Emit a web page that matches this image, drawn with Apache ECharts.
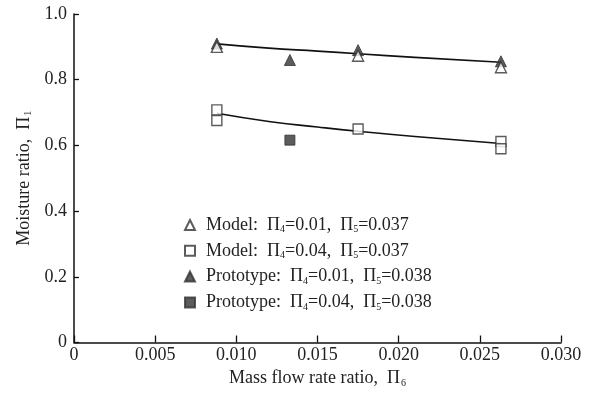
<!DOCTYPE html>
<html><head><meta charset="utf-8">
<script src="https://cdn.jsdelivr.net/npm/echarts@6/dist/echarts.min.js"></script>
<style>html,body{margin:0;padding:0;background:#fff}#c{width:595px;height:396px}</style>
</head><body><div id="c"></div>
<script>
const xTicks = [0, 0.005, 0.010, 0.015, 0.020, 0.025, 0.030];
const yTicks = [0, 0.2, 0.4, 0.6, 0.8, 1.0];

const modelTriX = [0.0088, 0.0175, 0.0263];
const modelTriY = [0.900, 0.873, 0.838];
const modelSqX  = [0.0088, 0.0088, 0.0175, 0.0263, 0.0263];
const modelSqY  = [0.708, 0.676, 0.650, 0.612, 0.590];
const protoTriX = [0.0088, 0.0133, 0.0175, 0.0263];
const protoTriY = [0.910, 0.860, 0.890, 0.856];
const protoSqX  = [0.0133];
const protoSqY  = [0.616];

const fitTriX = [0.0088, 0.012, 0.015, 0.0175, 0.021, 0.0263];
const fitTriY = [0.909, 0.896, 0.887, 0.879, 0.868, 0.853];
const fitSqX  = [0.0088, 0.012, 0.015, 0.0175, 0.021, 0.0263];
const fitSqY  = [0.698, 0.673, 0.656, 0.643, 0.627, 0.606];

const names = ['Model: Π4=0.01, Π5=0.037', 'Model: Π4=0.04, Π5=0.037',
               'Prototype: Π4=0.01, Π5=0.038', 'Prototype: Π4=0.04, Π5=0.038'];
const legendRich = [
  ['Model', '0.01', '0.037'], ['Model', '0.04', '0.037'],
  ['Prototype', '0.01', '0.038'], ['Prototype', '0.04', '0.038']
];

const zip = (a, b) => a.map((v, i) => [v, b[i]]);
const FONT = '"Liberation Serif", "DejaVu Serif", serif';
const INK = '#222';
const FS = 18;

const chart = echarts.init(document.getElementById('c'));
const openStyle = {color: '#fff', borderColor: '#333', borderWidth: 1.4};
const fillStyle = {color: '#333', borderColor: '#333', borderWidth: 1};
const subRich = {p: {fontFamily: FONT, fontSize: FS, color: INK},
                 s: {fontFamily: FONT, fontSize: 10, color: INK, padding: [9, 0, 0, 1]}};

chart.setOption({
  animation: false,
  backgroundColor: '#fff',
  grid: {left: 74, right: 34, top: 14, bottom: 53.5},
  xAxis: {
    type: 'value', min: 0, max: 0.03, interval: 0.005,
    name: '{p|Mass flow rate ratio,  Π}{s|6}', nameLocation: 'middle', nameGap: 25,
    nameTextStyle: {fontFamily: FONT, fontSize: FS, color: INK, rich: subRich},
    axisLine: {lineStyle: {color: '#111', width: 1.5}},
    axisTick: {inside: true, length: 7, lineStyle: {color: '#111', width: 1.3}},
    splitLine: {show: false},
    axisLabel: {fontFamily: FONT, fontSize: FS, color: INK, margin: 4,
      formatter: v => v === 0 ? '0' : v.toFixed(3)}
  },
  yAxis: {
    type: 'value', min: 0, max: 1.0, interval: 0.2,
    name: '{p|Moisture ratio,  Π}{s|1}', nameLocation: 'middle', nameGap: 39,
    nameTextStyle: {fontFamily: FONT, fontSize: FS, color: INK, rich: subRich},
    axisLine: {show: true, lineStyle: {color: '#111', width: 1.5}},
    axisTick: {show: true, inside: true, length: 5, lineStyle: {color: '#111', width: 1.3}},
    splitLine: {show: false},
    axisLabel: {fontFamily: FONT, fontSize: FS, color: INK, margin: 7,
      formatter: v => v === 0 ? '0' : v.toFixed(1)}
  },
  legend: {
    orient: 'vertical', left: 179, top: 211, itemGap: 7.3, itemWidth: 10, itemHeight: 10,
    data: names,
    formatter: n => {
      const r = legendRich[names.indexOf(n)];
      return '{b|' + r[0] + ':  Π}{s|4}{a|=' + r[1] + ',  Π}{s|5}{a|=' + r[2] + '}';
    },
    textStyle: {fontFamily: FONT, fontSize: FS, color: INK,
      rich: {a: {fontFamily: FONT, fontSize: FS, color: INK},
             b: {fontFamily: FONT, fontSize: FS, color: INK, padding: [0, 0, 0, 6]},
             s: {fontFamily: FONT, fontSize: 10, color: INK, padding: [9, 0, 0, 0]}}}
  },
  series: [
    {type: 'line', data: zip(fitTriX, fitTriY), smooth: true, symbol: 'none',
     lineStyle: {color: '#111', width: 1.6}, z: 1, silent: true},
    {type: 'line', data: zip(fitSqX, fitSqY), smooth: true, symbol: 'none',
     lineStyle: {color: '#111', width: 1.6}, z: 1, silent: true},
    {name: names[0], type: 'scatter', symbol: 'triangle', symbolSize: 11,
     data: zip(modelTriX, modelTriY), itemStyle: openStyle, z: 3},
    {name: names[1], type: 'scatter', symbol: 'rect', symbolSize: 10,
     data: zip(modelSqX, modelSqY), itemStyle: openStyle, z: 3},
    {name: names[2], type: 'scatter', symbol: 'triangle', symbolSize: 11,
     data: zip(protoTriX, protoTriY), itemStyle: fillStyle, z: 2},
    {name: names[3], type: 'scatter', symbol: 'rect', symbolSize: 10,
     data: zip(protoSqX, protoSqY), itemStyle: fillStyle, z: 2}
  ]
});
</script></body></html>
